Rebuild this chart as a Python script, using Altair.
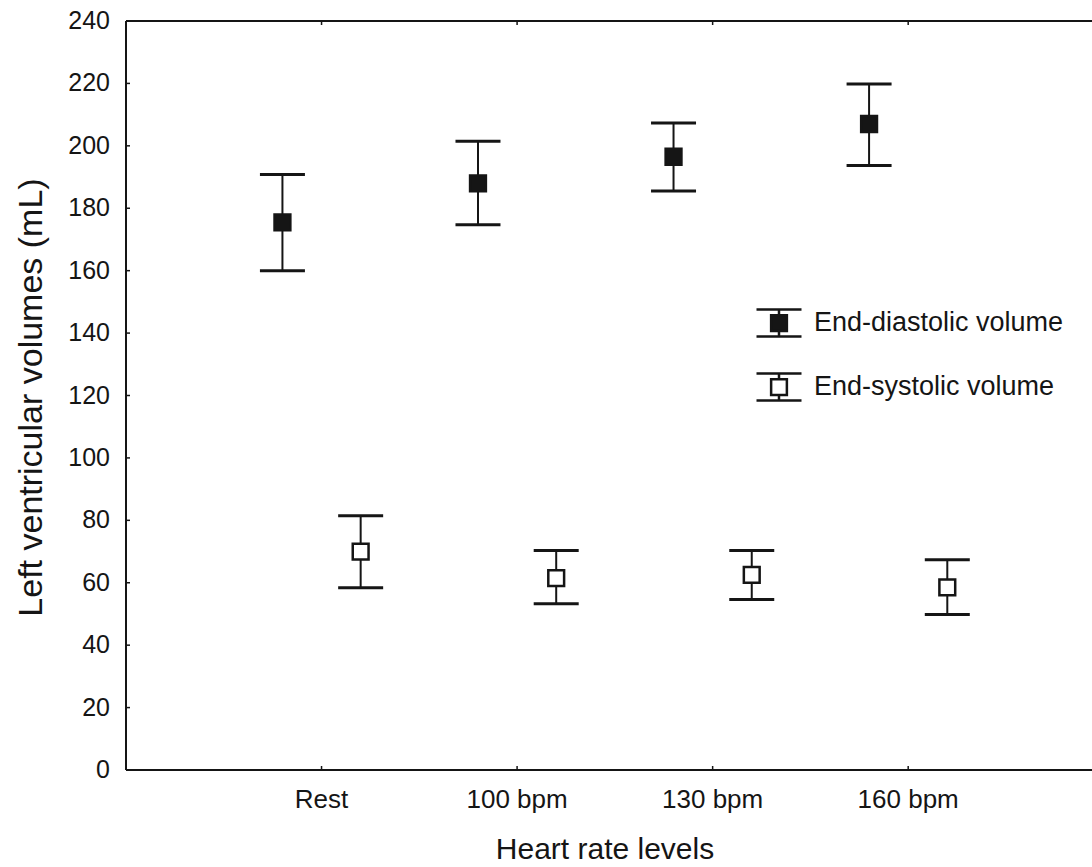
import altair as alt
import pandas as pd

# Heart-rate levels and their positions along the x scale
levels = ["Rest", "100 bpm", "130 bpm", "160 bpm"]
level_pos = [1, 2, 3, 4]

# Left ventricular volumes (mL): mean with lower / upper error limits
edv_mean = [175.5, 188.0, 196.5, 207.0]
edv_low = [160.0, 174.7, 185.5, 193.7]
edv_high = [190.8, 201.5, 207.3, 219.8]

esv_mean = [70.0, 61.5, 62.5, 58.5]
esv_low = [58.4, 53.3, 54.6, 49.8]
esv_high = [81.5, 70.3, 70.3, 67.4]

series_names = ["End-diastolic volume", "End-systolic volume"]
series_shift = [-0.2, 0.2]

y_ticks = list(range(0, 241, 20))
x_title = "Heart rate levels"
y_title = "Left ventricular volumes (mL)"

rows = []
for name, shift, means, lows, highs in [
    (series_names[0], series_shift[0], edv_mean, edv_low, edv_high),
    (series_names[1], series_shift[1], esv_mean, esv_low, esv_high),
]:
    for p, m, lo, hi in zip(level_pos, means, lows, highs):
        rows.append({"series": name, "x": p + shift, "mean": m, "low": lo, "high": hi})
df = pd.DataFrame(rows)
level_df = pd.DataFrame({"p": level_pos, "label": levels})
ytick_df = pd.DataFrame({"v": y_ticks, "label": [str(v) for v in y_ticks]})
one = pd.DataFrame({"k": [0]})

W, H = 966, 749
X_MAX, Y_MAX = 4.94, 240
FONT = "Liberation Sans"
INK = "#151515"
x_scale = alt.Scale(domain=[0, X_MAX], nice=False, zero=False)
y_scale = alt.Scale(domain=[0, Y_MAX], nice=False, zero=False)


def xq(field):
    return alt.X(field, type="quantitative", scale=x_scale, axis=None)


def yq(field):
    return alt.Y(field, type="quantitative", scale=y_scale, axis=None)


# legend glyph: cap, stem, box, stem, cap
glyph = ("M-1,-0.6H1M0,-0.6V-0.35M-0.35,-0.35H0.35V0.35H-0.35Z"
         "M0,0.35V0.6M-1,0.6H1")

base = alt.Chart(df)

stems = base.mark_rule(color=INK, strokeWidth=2).encode(
    x=xq("x"), y=yq("low"), y2="high",
)
caps_hi = base.mark_tick(color=INK, orient="horizontal", size=45, thickness=3, opacity=1).encode(
    x=xq("x"), y=yq("high"),
)
caps_lo = base.mark_tick(color=INK, orient="horizontal", size=45, thickness=3, opacity=1).encode(
    x=xq("x"), y=yq("low"),
)
points = base.mark_point(shape="square", filled=True, size=250, strokeWidth=2.5, opacity=1).encode(
    x=xq("x"),
    y=yq("mean"),
    fill=alt.Fill(
        "series:N",
        scale=alt.Scale(domain=series_names, range=[INK, "#ffffff"]),
        legend=alt.Legend(
            title=None, orient="none", legendX=629, legendY=278,
            symbolType=glyph, symbolSize=2025, symbolStrokeColor=INK,
            symbolStrokeWidth=2.5, symbolOpacity=1, padding=0,
            labelFontSize=27, labelFont=FONT, labelColor=INK, labelOffset=11,
            rowPadding=21, labelLimit=400,
        ),
    ),
    stroke=alt.value(INK),
)

# frame: left, bottom and top borders drawn on the scales
frame_src = alt.Chart(one)
left_line = frame_src.mark_rule(color=INK, strokeWidth=2).encode(
    x=alt.X(datum=0, type="quantitative", scale=x_scale, axis=None),
    y=alt.Y(datum=0, type="quantitative", scale=y_scale, axis=None),
    y2=alt.Y2(datum=Y_MAX),
)
bottom_line = frame_src.mark_rule(color=INK, strokeWidth=2).encode(
    y=alt.Y(datum=0, type="quantitative", scale=y_scale, axis=None),
    x=alt.X(datum=0, type="quantitative", scale=x_scale, axis=None),
    x2=alt.X2(datum=X_MAX),
)
top_line = frame_src.mark_rule(color=INK, strokeWidth=2).encode(
    y=alt.Y(datum=Y_MAX, type="quantitative", scale=y_scale, axis=None),
    x=alt.X(datum=0, type="quantitative", scale=x_scale, axis=None),
    x2=alt.X2(datum=X_MAX),
)

# small inward tick marks
left_ticks = alt.Chart(ytick_df).mark_rule(color=INK, strokeWidth=1.5).encode(
    y=yq("v"), x=alt.value(0), x2=alt.value(4),
)
bottom_ticks = alt.Chart(level_df).mark_rule(color=INK, strokeWidth=1.5).encode(
    x=xq("p"), y=alt.value(H), y2=alt.value(H - 4),
)
top_ticks = alt.Chart(level_df).mark_rule(color=INK, strokeWidth=1.5).encode(
    x=xq("p"), y=alt.value(0), y2=alt.value(4),
)

# tick labels
y_labels = alt.Chart(ytick_df).mark_text(
    font=FONT, fontSize=25, color=INK, align="right", baseline="middle",
).encode(y=yq("v"), x=alt.value(-16), text="label:N")
x_labels = alt.Chart(level_df).mark_text(
    font=FONT, fontSize=26, color=INK, baseline="top", align="center",
).encode(x=xq("p"), y=alt.value(H + 17), text="label:N")

# axis titles
x_title_mark = alt.Chart(pd.DataFrame({"t": [x_title]})).mark_text(
    font=FONT, fontSize=30, color=INK, baseline="alphabetic", align="center",
).encode(x=alt.value(479), y=alt.value(H + 89), text="t:N")
y_title_mark = alt.Chart(pd.DataFrame({"t": [y_title]})).mark_text(
    font=FONT, fontSize=34, color=INK, baseline="alphabetic", align="center", angle=270,
).encode(x=alt.value(-84), y=alt.value(H / 2 + 2), text="t:N")

chart = alt.layer(
    left_line, bottom_line, top_line, left_ticks, bottom_ticks, top_ticks,
    y_labels, x_labels, x_title_mark, y_title_mark,
    stems, caps_hi, caps_lo, points,
).properties(
    width=W, height=H,
    autosize=alt.AutoSizeParams(type="none"),
    padding={"left": 126, "top": 21, "right": 0, "bottom": 97},
    background="white",
).configure_view(stroke=None)

chart.save("out.html", embed_options={"renderer": "svg", "actions": False})
